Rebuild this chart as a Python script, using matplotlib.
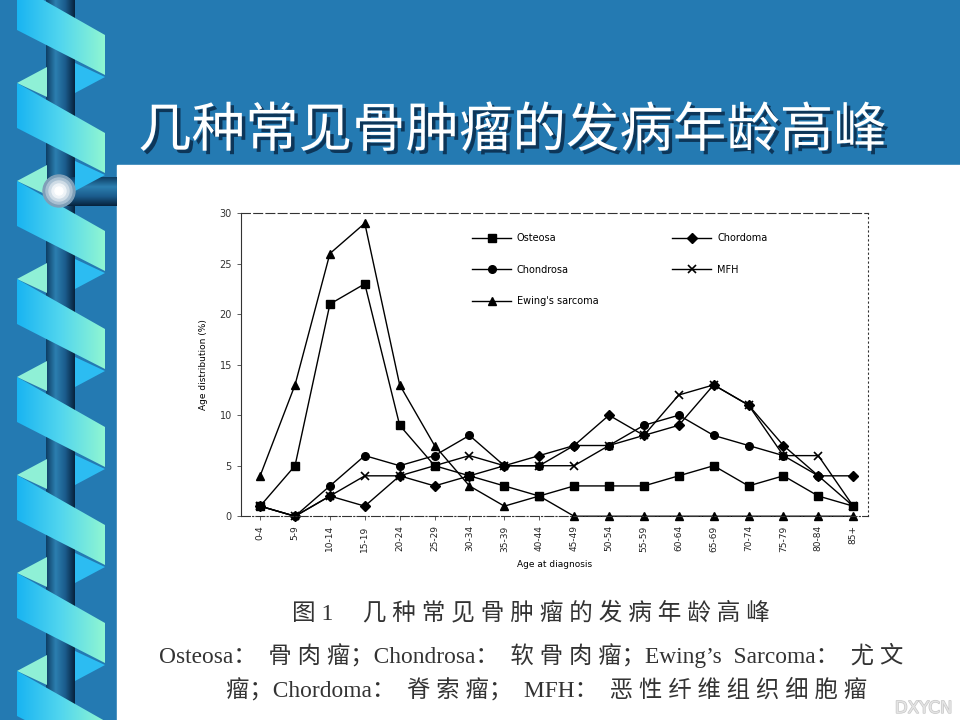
import matplotlib
matplotlib.use('Agg')
import matplotlib.pyplot as plt
import matplotlib.patheffects as pe
import numpy as np
from matplotlib.patches import Polygon, Rectangle, Circle
from matplotlib.colors import LinearSegmentedColormap

# data
age_groups = ['0-4', '5-9', '10-14', '15-19', '20-24', '25-29', '30-34', '35-39',
              '40-44', '45-49', '50-54', '55-59', '60-64', '65-69', '70-74',
              '75-79', '80-84', '85+']
osteosa = [1, 5, 21, 23, 9, 5, 4, 3, 2, 3, 3, 3, 4, 5, 3, 4, 2, 1]
chondrosa = [1, 0, 3, 6, 5, 6, 8, 5, 5, 7, 7, 9, 10, 8, 7, 6, 4, 1]
ewing = [4, 13, 26, 29, 13, 7, 3, 1, 2, 0, 0, 0, 0, 0, 0, 0, 0, 0]
chordoma = [1, 0, 2, 1, 4, 3, 4, 5, 6, 7, 10, 8, 9, 13, 11, 7, 4, 4]
mfh = [1, 0, 2, 4, 4, 5, 6, 5, 5, 5, 7, 8, 12, 13, 11, 6, 6, 1]
y_ticks = [0, 5, 10, 15, 20, 25, 30]

title = '几种常见骨肿瘤的发病年龄高峰'
caption1 = '图 1     几 种 常 见 骨 肿 瘤 的 发 病 年 龄 高 峰'
caption2 = 'Osteosa：  骨 肉 瘤；Chondrosa：  软 骨 肉 瘤；Ewing’s  Sarcoma：  尤 文'
caption3 = '瘤；Chordoma：  脊 索 瘤；  MFH：  恶 性 纤 维 组 织 细 胞 瘤'

BG = '#247ab2'
cjk = ['Noto Sans CJK SC', 'DejaVu Sans']
serif_cjk = ['Liberation Serif', 'Noto Sans CJK SC', 'DejaVu Sans']

fig = plt.figure(figsize=(9.6, 7.2), dpi=100)
fig.patch.set_facecolor(BG)

# ---- slide decoration, drawn in pixel coords ----
deco = fig.add_axes([0, 0, 1, 1])
deco.axis('off')
deco.set_zorder(0)

deco.add_patch(Rectangle((117, 165), 843, 555, color='white', zorder=1))

tube_cmap = LinearSegmentedColormap.from_list('tube', ['#0d3d63', '#2c7fb0', '#1b5c8c', '#06223c'])
ribbon_cmap = LinearSegmentedColormap.from_list('rib', ['#19b4f2', '#52d6ee', '#90f6d2'])
grad = np.linspace(0, 1, 256).reshape(1, -1)

# vertical tube and the arm going to the panel
deco.imshow(grad, cmap=tube_cmap, extent=(46, 75, 720, 0), aspect='auto', zorder=2)
deco.imshow(grad.T, cmap=tube_cmap, extent=(60, 117, 206, 177), aspect='auto', zorder=2)

for i in range(8):
    y0 = -15 + 98 * i
    deco.add_patch(Polygon([(17, y0 + 98), (47, y0 + 82), (47, y0 + 112)],
                           facecolor='#8ff0d6', edgecolor='none', zorder=3))
    deco.add_patch(Polygon([(75, y0 + 78), (105, y0 + 92), (75, y0 + 108)],
                           facecolor='#2cbcf2', edgecolor='none', zorder=3))
    band = Polygon([(17, y0), (105, y0 + 50), (105, y0 + 90), (17, y0 + 45)],
                   facecolor='none', edgecolor='none')
    deco.add_patch(band)
    im = deco.imshow(grad, cmap=ribbon_cmap, extent=(17, 105, y0 + 95, y0 - 2),
                     aspect='auto', zorder=4)
    im.set_clip_path(band)

# sphere on the joint
for r, c in zip([16, 13, 10, 7, 4], ['#7f9fb8', '#a9c0d2', '#cfdce6', '#eef3f7', '#ffffff']):
    deco.add_patch(Circle((59, 191), r, color=c, zorder=5))

deco.set_xlim(0, 960)
deco.set_ylim(720, 0)

# title with drop shadow
fig.text(0.534, 0.818, title, family=cjk, fontsize=38.5, fontweight='light',
         color='white', ha='center', va='center',
         path_effects=[pe.withSimplePatchShadow(offset=(2.5, -2.5), shadow_rgbFace='#0b2f4f', alpha=0.9)])

# ---- the chart ----
ax = fig.add_axes([0.251, 0.283, 0.653, 0.421])
ax.set_zorder(2)
ax.set_facecolor('white')
x = np.arange(len(age_groups))
kw = dict(color='black', lw=1.0, markersize=5.5, clip_on=False)
ax.plot(x, osteosa, marker='s', label='Osteosa', **kw)
ax.plot(x, chondrosa, marker='o', label='Chondrosa', **kw)
ax.plot(x, ewing, marker='^', label="Ewing's sarcoma", **kw)
ax.plot(x, chordoma, marker='D', label='Chordoma', **kw)
ax.plot(x, mfh, marker='x', mew=1.2, label='MFH', **kw)

ax.set_xlim(-0.55, 17.42)
ax.set_ylim(0, 30)
ax.set_yticks(y_ticks)
ax.set_yticklabels([str(t) for t in y_ticks], fontsize=7, color='#333333')
ax.set_xticks(x)
ax.set_xticklabels(age_groups, rotation=90, fontsize=6.5, color='#222222')
ax.tick_params(axis='both', length=3, width=0.6, color='#444444')
ax.set_ylabel('Age distribution (%)', fontsize=6.5, labelpad=8)
ax.set_xlabel('Age at diagnosis', fontsize=6.5, labelpad=6)

ax.spines['top'].set_linestyle((0, (8, 3)))
ax.spines['right'].set_linestyle((0, (1, 3)))
ax.spines['bottom'].set_linestyle((0, (8, 2, 1, 2)))
for s in ax.spines.values():
    s.set_linewidth(0.8)
    s.set_color('#333333')

ax.legend(loc='upper left', bbox_to_anchor=(0.355, 0.962), ncol=2, frameon=False,
          fontsize=7, handlelength=4.0, handletextpad=0.6, columnspacing=7.6,
          labelspacing=2.2)

# caption under the figure
fig.text(0.553, 1 - 613 / 720, caption1, family=serif_cjk, fontsize=17,
         color='#333333', ha='center', va='center')
fig.text(0.553, 1 - 655 / 720, caption2, family=serif_cjk, fontsize=16.8,
         color='#333333', ha='center', va='center')
fig.text(0.569, 1 - 690 / 720, caption3, family=serif_cjk, fontsize=16.8,
         color='#333333', ha='center', va='center')

# faint watermark, kept clear of the caption
fig.text(0.992, 1 - 708 / 720, 'DXYCN', family=['DejaVu Sans'], fontsize=12,
         color='#e4e4e4', ha='right', va='center', zorder=10,
         path_effects=[pe.withStroke(linewidth=1, foreground='#c8c8c8')])

fig.savefig('out.png', dpi=100, facecolor=fig.get_facecolor())
